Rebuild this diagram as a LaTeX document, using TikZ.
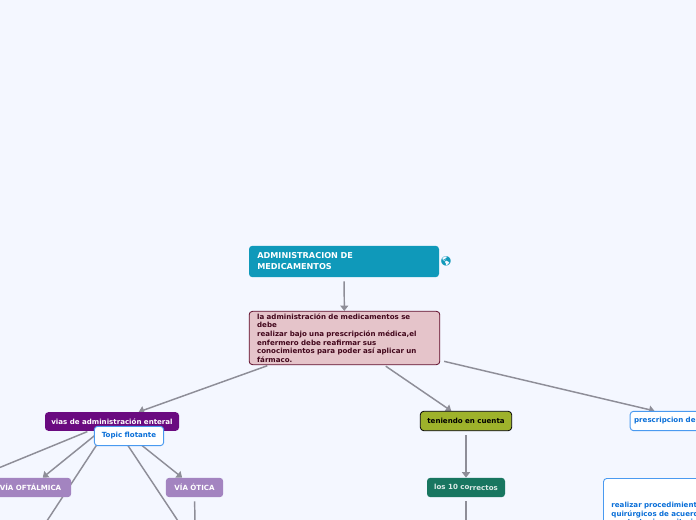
\documentclass[tikz,border=0pt]{standalone}
\usepackage{fontspec}
\setmainfont{DejaVu Sans}
\newfontfamily\emojifont{Noto Emoji}
\usetikzlibrary{arrows.meta,backgrounds}
\definecolor{pagebg}{HTML}{F4F7FF}
\definecolor{linkgray}{HTML}{8E8E98}
\definecolor{titlefill}{HTML}{0F99BA}
\definecolor{pinkfill}{HTML}{E5C4CA}
\definecolor{pinkline}{HTML}{5E0A28}
\definecolor{purplefill}{HTML}{6A0A80}
\definecolor{lilacfill}{HTML}{A384C0}
\definecolor{olivefill}{HTML}{9EB22B}
\definecolor{greenfill}{HTML}{187660}
\definecolor{bluetext}{HTML}{0A6FD8}
\definecolor{blueline}{HTML}{4A9AF0}
\tikzset{
  x=0.75pt,y=-0.75pt,
  topicbox/.style={rounded corners=2.5pt,inner sep=0pt,font=\bfseries\fontsize{5.3}{6.4}\selectfont,align=center},
  leftbox/.style={topicbox,align=left,inner xsep=6pt},
  whitebox/.style={fill=white,draw=blueline,line width=0.7pt,text=bluetext},
  lilacbox/.style={topicbox,fill=lilacfill,text=white,minimum height=14.5pt},
  link/.style={draw=linkgray,line width=1.1pt},
  arrowlink/.style={link,-{Triangle[width=6pt,length=4pt]}},
}
\begin{document}
\begin{tikzpicture}
\useasboundingbox (0,0) rectangle (696,520);
\clip (0,0) rectangle (696,520);
\node[topicbox,fill=titlefill,text=white,minimum width=142.5pt,minimum height=23.5pt,text width=130pt,align=left,font=\bfseries\fontsize{6.1}{8.2}\selectfont] (title) at (344,261.5) {ADMINISTRACION DE\\MEDICAMENTOS};
\node[text=titlefill,inner sep=0pt,font=\emojifont\fontsize{7}{7}\selectfont] (globe) at (446,261.5) {🌎};
\node[topicbox,fill=pinkfill,draw=pinkline,line width=0.6pt,text=pinkline!70!black,minimum width=143pt,minimum height=40pt,text width=131pt,align=left] (root) at (344.5,338) {la administración de medicamentos se debe\\realizar bajo una prescripción médica,el\\enfermero debe reafirmar sus\\conocimientos para poder así aplicar un\\fármaco.};
\node[topicbox,fill=purplefill,text=white,minimum width=100.5pt,minimum height=14pt] (enteral) at (112,421.5) {vias de administración enteral};
\node[topicbox,whitebox,minimum width=52pt,minimum height=14.5pt] (floating) at (129,436) {Topic flotante};
\node[lilacbox,minimum width=61pt] (oftalmica) at (30.5,487.5) {VÍA OFTÁLMICA};
\node[lilacbox,minimum width=43pt] (otica) at (194.5,487.5) {VÍA ÓTICA};
\node[topicbox,fill=olivefill,draw=black,line width=0.6pt,text=black,minimum width=68.5pt,minimum height=14.5pt] (teniendo) at (466,421) {teniendo en cuenta};
\node[topicbox,fill=greenfill,text=white!85!greenfill,minimum width=58.5pt,minimum height=14.5pt] (correctos) at (466,487.5) {los 10 co\raisebox{-0.25pt}{rrectos}};
\node[topicbox,whitebox,minimum width=101pt,minimum height=14.5pt,text width=95pt,align=left] (prescripcion) at (697.5,421) {prescripcion de};
\node[topicbox,whitebox,minimum width=130pt,minimum height=60pt,text width=118pt,align=left,anchor=north west] (realizar) at (603,478) {realizar procedimientos\\quirúrgicos de acuerdo\\o estrategias, criterios\\hagan coherente la so};
\coordinate (offleft) at (-60,492);
\coordinate (offdownleft) at (41,530);
\coordinate (offdownright) at (184,530);
\coordinate (offotica) at (195,530);
\coordinate (offcorrectos) at (466,530);
\coordinate (offright) at (700,435);
\coordinate (realizartop) at (700,478);
\begin{scope}[on background layer]
\fill[pagebg] (0,0) rectangle (696,520);
\draw[arrowlink,shorten <=3pt] (title) -- (root);
\draw[arrowlink,shorten <=1.5pt] (root) -- (enteral);
\draw[arrowlink,shorten <=1.5pt] (root) -- (teniendo);
\draw[arrowlink,shorten <=3pt] (root) -- (prescripcion);
\draw[arrowlink,shorten <=3pt] (teniendo) -- (correctos);
\draw[link,shorten <=3pt] (correctos) -- (offcorrectos);
\draw[link,shorten <=3pt] (otica) -- (offotica);
\draw[link,shorten <=1pt] (enteral) -- (offleft);
\draw[arrowlink] (enteral) -- (oftalmica);
\draw[link] (enteral) -- (offdownleft);
\draw[link] (enteral) -- (offdownright);
\draw[arrowlink] (enteral) -- (otica);
\draw[arrowlink] (offright) -- (realizartop);
\end{scope}
\end{tikzpicture}
\end{document}
